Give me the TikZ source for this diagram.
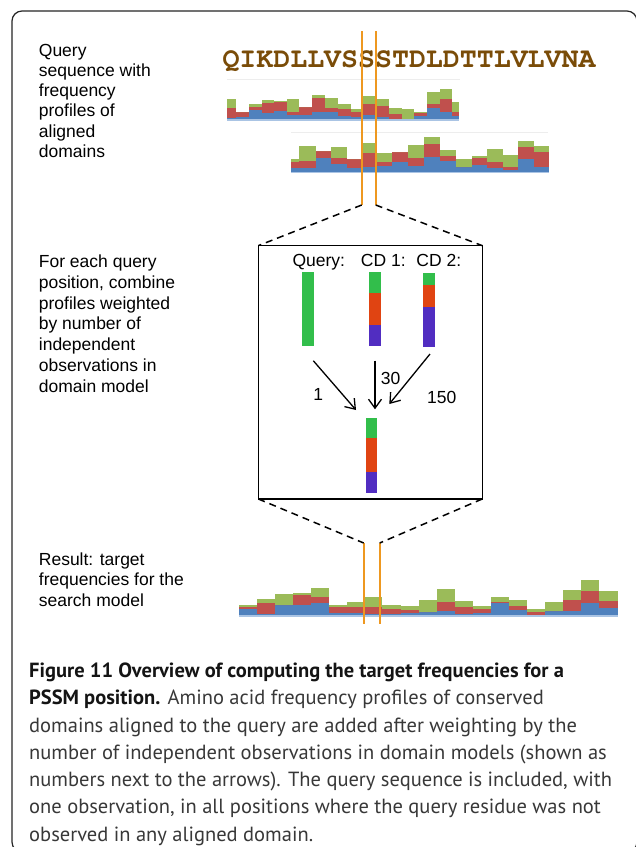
\documentclass[tikz,border=0pt]{standalone}
\usepackage{fontspec}
\setmainfont{Liberation Sans}
\newfontfamily\capfont{PT Sans}
\newfontfamily\seqfont{texgyrecursor-bold.otf}
\usetikzlibrary{arrows.meta}
\definecolor{pgreen}{RGB}{155,187,89}
\definecolor{pred}{RGB}{192,80,77}
\definecolor{pblue}{RGB}{79,129,189}
\definecolor{pstrip}{RGB}{170,196,228}
\definecolor{bgreen}{RGB}{50,190,75}
\definecolor{bred}{RGB}{224,68,18}
\definecolor{bpurple}{RGB}{81,45,193}
\definecolor{orng}{RGB}{238,152,32}
\definecolor{seqbrown}{RGB}{122,76,8}
\begin{document}
\begin{tikzpicture}[x=1pt,y=-1pt,
  lab/.style={anchor=base west, inner sep=0pt, font=\fontsize{17.5}{21}\selectfont},
  captxt/.style={anchor=base west, inner sep=0pt, font=\capfont\fontsize{20.5}{27}\selectfont, text=black!78},
  orangeline/.style={draw=orng, line width=1.8pt},
  dashline/.style={line width=1.5pt, dash pattern=on 7pt off 5pt},
  arr/.style={line width=1.3pt, -{Straight Barb[length=9pt,width=13pt]}},
]
\fill[white] (0,0) rectangle (636,847);
\useasboundingbox (0,0) rectangle (636,847);
\draw[line width=1.2pt, black!85, rounded corners=10pt] (12,11) rectangle (637,852);

% left labels
\foreach \t [count=\i from 0] in {Query, sequence with, frequency, profiles of, aligned, domains}
  \node[lab] (la\i) at (38.7,{56+20.3*\i}) {\t};
\foreach \t [count=\i from 0] in {For each query, {position, combine}, profiles weighted, by number of, independent, observations in, domain model}
  \node[lab] (lb\i) at (38.7,{267.5+20.83*\i}) {\t};
\foreach \t [count=\i from 0] in {Result: target, frequencies for the, search model}
  \node[lab] (lc\i) at (38.7,{565+20.7*\i}) {\t};

% query sequence
\node[anchor=base west, inner sep=0pt, font=\seqfont\fontsize{28.26}{30}\selectfont, text=seqbrown] (seq) at (222.3,67.7) {QIKDLLVSSSTDLDTTLVLVNA};

% faint chart frames
\draw[black!7, line width=1pt] (227,79.5) -- (460,79.5);
\draw[black!7, line width=1pt] (291,132) -- (548,132);

% top profile
\begin{scope}[shift={(220,80)}, scale=1/3]
\foreach \xa/\xb/\b/\r/\g in {20/47/115/85/58, 47/87/112/97/97, 87/125/90/80/73, 125/163/100/70/60, 163/200/92/67/62, 200/238/105/95/57, 238/277/105/80/80, 277/316/95/55/45, 316/355/97/85/55, 355/393/107/88/72, 393/430/112/95/88, 430/467/105/72/48, 467/507/112/78/56, 507/545/118/103/83, 545/583/118/118/88, 583/621/108/98/95, 621/659/85/72/35, 659/697/95/57/27, 697/718/107/95/65}{
  \fill[pblue] (\xa,122) rectangle (\xb,\b);
  \fill[pred] (\xa,\b) rectangle (\xb,\r);
  \fill[pgreen] (\xa,\r) rectangle (\xb,\g);
}
\fill[pstrip] (20,118) rectangle (718,122);
\end{scope}

% second profile
\begin{scope}[shift={(280,130)}, scale=1/3]
\foreach \xa/\xb/\b/\r/\g in {33/58/113/97/88, 58/107/115/93/47, 107/152/85/62/62, 152/200/102/85/52, 200/243/115/88/88, 243/290/112/68/38, 290/337/108/97/68, 337/385/95/65/65, 385/433/108/83/45, 433/480/80/42/22, 480/527/92/78/60, 527/575/110/110/88, 575/622/105/85/78, 622/668/115/97/58, 668/715/120/112/75, 715/762/88/52/33, 762/806/110/67/48}{
  \fill[pblue] (\xa,130) rectangle (\xb,\b);
  \fill[pred] (\xa,\b) rectangle (\xb,\r);
  \fill[pgreen] (\xa,\r) rectangle (\xb,\g);
}
\fill[pstrip] (33,126) rectangle (806,130);
\end{scope}

% result profile
\begin{scope}[shift={(230,520)}, scale=1/3]
\foreach \xa/\xb/\b/\r/\g in {27/80/268/262/255, 80/135/282/250/237, 135/188/255/255/223, 188/243/255/225/218, 243/297/248/232/203, 297/350/280/260/255, 350/403/280/262/247, 403/457/282/262/230, 457/513/283/267/255, 513/567/278/270/257, 567/622/277/277/240, 622/675/273/247/208, 675/730/282/262/243, 730/783/280/268/257, 783/838/248/245/230, 838/892/270/257/240, 892/945/285/275/267, 945/1000/273/273/247, 1000/1053/272/240/210, 1053/1108/250/213/180, 1108/1164/265/243/212}{
  \fill[pblue] (\xa,290) rectangle (\xb,\b);
  \fill[pred] (\xa,\b) rectangle (\xb,\r);
  \fill[pgreen] (\xa,\r) rectangle (\xb,\g);
}
\fill[pstrip] (27,285) rectangle (1164,290);
\end{scope}

% orange guide lines
\coordinate (tl) at (361.7,205);
\coordinate (tr) at (375.7,205);
\coordinate (bl) at (363.7,543);
\coordinate (br) at (379.7,543);
\draw[orangeline] (361.7,31) -- (tl);
\draw[orangeline] (375.7,31) -- (tr);
\draw[orangeline] (bl) -- (363.7,624);
\draw[orangeline] (br) -- (379.7,624);

% zoom box
\node[draw, line width=1.6pt, minimum width=224pt, minimum height=253.3pt, inner sep=0pt, outer sep=0pt] (box) at (370.3,372.3) {};
\draw[dashline] (tl) -- (box.north west);
\draw[dashline] (tr) -- (box.north east);
\draw[dashline] (box.south west) -- (bl);
\draw[dashline] (box.south east) -- (br);

% headers
\node[lab, anchor=base] (hq) at (318.8,266.7) {Query:};
\node[lab, anchor=base] (h1) at (383.3,266.7) {CD 1:};
\node[lab, anchor=base] (h2) at (438.8,266.7) {CD 2:};

% bars
\fill[bgreen] (302.3,271.7) rectangle (314,345.7);
\fill[bgreen] (369,271.7) rectangle (380.7,292.7);
\fill[bred] (369,292.7) rectangle (380.7,325);
\fill[bpurple] (369,325) rectangle (380.7,345.7);
\fill[bgreen] (423,273.3) rectangle (434.7,285);
\fill[bred] (423,285) rectangle (434.7,306.7);
\fill[bpurple] (423,306.7) rectangle (434.7,347.3);
\fill[bgreen] (365.7,417.7) rectangle (377.3,438.3);
\fill[bred] (365.7,438.3) rectangle (377.3,471.7);
\fill[bpurple] (365.7,471.7) rectangle (377.3,492.7);

% arrows
\coordinate (a1s) at (313.3,360.7);
\coordinate (a1e) at (356,410);
\coordinate (a2s) at (375,360.7);
\coordinate (a2e) at (375,409.3);
\coordinate (a3s) at (430,354);
\coordinate (a3e) at (389.3,404);
\draw[arr] (a1s) -- (a1e);
\draw[arr] (a2s) -- (a2e);
\draw[arr] (a3s) -- (a3e);
\node[lab, anchor=base] (n1) at (318.3,400) {1};
\node[lab, anchor=base] (n30) at (390.7,384.3) {30};
\node[lab, anchor=base] (n150) at (441.7,403.3) {150};

% caption
\node[captxt] (c1) at (29,677.5) {\bfseries\color{black!92}Figure 11 Overview of computing the target frequencies for a};
\node[captxt] (c2) at (29,704.75) {{\bfseries\color{black!92}PSSM position.} Amino acid frequency profiles of conserved};
\node[captxt] (c3) at (29,732) {domains aligned to the query are added after weighting by the};
\node[captxt] (c4) at (29,759.25) {number of independent observations in domain models (shown as};
\node[captxt] (c5) at (29,786.5) {numbers next to the arrows). The query sequence is included, with};
\node[captxt] (c6) at (29,813.75) {one observation, in all positions where the query residue was not};
\node[captxt] (c7) at (29,841) {observed in any aligned domain.};
\end{tikzpicture}
\end{document}
